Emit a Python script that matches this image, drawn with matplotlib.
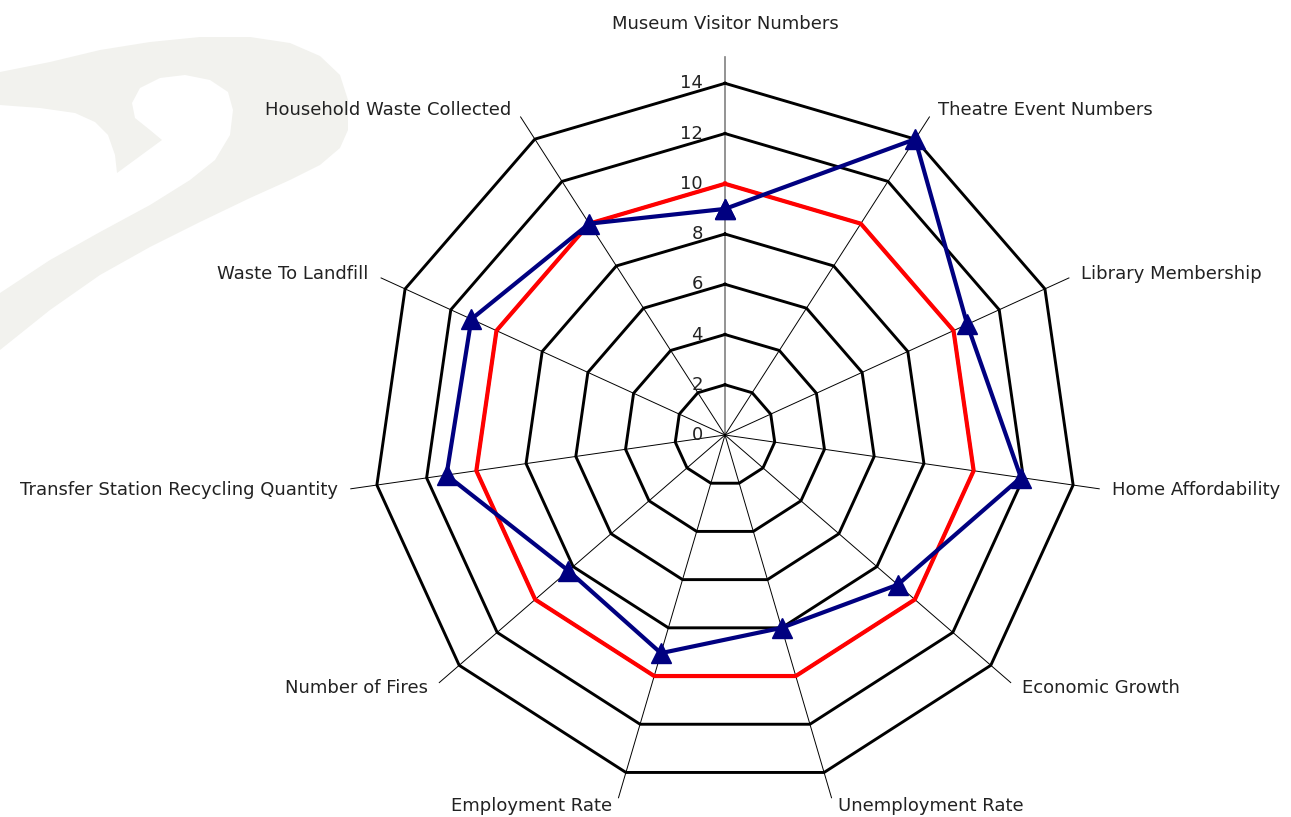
import numpy as np
import matplotlib
matplotlib.use("Agg")
import matplotlib.pyplot as plt
from matplotlib.patches import Polygon

# categories clockwise from the top
categories = ["Museum Visitor Numbers", "Theatre Event Numbers", "Library Membership",
              "Home Affordability", "Economic Growth", "Unemployment Rate",
              "Employment Rate", "Number of Fires", "Transfer Station Recycling Quantity",
              "Waste To Landfill", "Household Waste Collected"]
target = [10, 10, 10, 10, 10, 10, 10, 10, 10, 10, 10]
actual = [9, 14, 10.6, 11.9, 9.1, 8, 9.05, 8.25, 11.2, 11.1, 10]
ring_values = [2, 4, 6, 8, 10, 12, 14]
tick_values = [0, 2, 4, 6, 8, 10, 12, 14]

W, H = 1291, 817
plt.rcParams['font.family'] = ['DejaVu Sans']
fig = plt.figure(figsize=(W / 100, H / 100), dpi=100)

# faint background swirl, picture pixel coords
outer = [(0, 72), (50, 62), (100, 50), (150, 42), (200, 37), (250, 37), (290, 43),
         (320, 56), (340, 75), (348, 100), (348, 130), (340, 148), (320, 165),
         (290, 180), (250, 198), (200, 222), (150, 247), (100, 275), (50, 310), (0, 350)]
inner = [(0, 293), (50, 260), (100, 232), (150, 205), (190, 180), (215, 160),
         (230, 135), (233, 110), (228, 92), (210, 80), (185, 75), (160, 78), (140, 88),
         (132, 103), (135, 118), (150, 130), (162, 140), (117, 173), (115, 155),
         (108, 135), (95, 122), (75, 113), (40, 108), (0, 105)]
pts = [(x / W, 1 - y / H) for x, y in outer + inner]
fig.patches.append(Polygon(pts, closed=True, transform=fig.transFigure,
                           facecolor="#f2f2ee", edgecolor="none", zorder=-1))

# polar axes: centre at (725, 435) px, r=14 at 351.7 px
cx, cy, rad = 725, 435, 351.7
ax = fig.add_axes([(cx - rad) / W, (H - cy - rad) / H, 2 * rad / W, 2 * rad / H],
                  projection="polar")
ax.set_theta_zero_location("N")
ax.set_theta_direction(-1)
ax.set_ylim(0, 14)
ax.patch.set_visible(False)
ax.spines["polar"].set_visible(False)
ax.grid(False)
ax.set_xticks([])
ax.set_yticks([])

n = len(categories)
theta = np.linspace(0, 2 * np.pi, n, endpoint=False)
closed = np.append(theta, theta[0])

# spokes
for i, t in enumerate(theta):
    if i == 0:
        ax.plot([t, t], [0, 15.05], color="#808080", lw=1.2, clip_on=False, zorder=2)
    else:
        ax.plot([t, t], [0, 15.05], color="black", lw=0.7, clip_on=False, zorder=2)

# polygon rings
for r in ring_values:
    ax.plot(closed, [r] * (n + 1), color="black", lw=2.1, clip_on=False, zorder=3)

ax.plot(closed, target + target[:1], color="#ff0000", lw=3.0, clip_on=False, zorder=4)
ax.plot(closed, actual + actual[:1], color="#000080", lw=3.0, marker="^", ms=15,
        clip_on=False, zorder=5)

# value labels along the top axis
for v in tick_values:
    ax.annotate(str(v), xy=(0, v), xytext=(-16, 0), textcoords="offset points",
                ha="right", va="center", fontsize=13, color="#222222",
                annotation_clip=False)

# category labels, placed just past the end of each spoke
for i, (t, lab) in enumerate(zip(theta, categories)):
    if i == 0:
        ax.annotate(lab, xy=(t, 15.05), xytext=(0, 24), textcoords="offset points",
                    ha="center", va="center", fontsize=13, color="#222222",
                    annotation_clip=False)
    else:
        s = np.sin(t)
        ha = "left" if s > 0 else "right"
        dx = np.sign(s) * (3 + 6.5 * abs(s))
        dy = 6 * np.cos(t)
        ax.annotate(lab, xy=(t, 15.05), xytext=(dx, dy), textcoords="offset points",
                    ha=ha, va="center", fontsize=13, color="#222222",
                    annotation_clip=False)

fig.savefig("out.png", dpi=100)
